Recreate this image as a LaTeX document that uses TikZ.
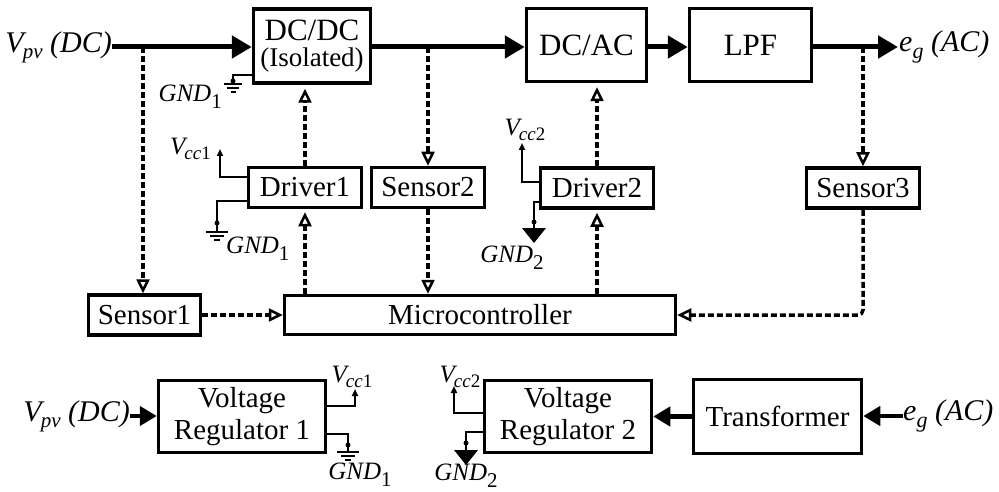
\documentclass[tikz,border=0pt]{standalone}
\usepackage{fontspec}
\setmainfont{Liberation Serif}
\usetikzlibrary{arrows.meta,calc}
\newcommand{\lblVpv}{{\itshape\fontsize{30}{30}\selectfont V\kern-1pt\raisebox{-6pt}{\fontsize{21}{21}\selectfont pv} (DC)}}
\newcommand{\lblEg}{{\itshape\fontsize{30}{30}\selectfont e\raisebox{-7pt}{\fontsize{22}{22}\selectfont g} (AC)}}
\newcommand{\lblVcc}[1]{{\itshape\fontsize{25}{25}\selectfont V\kern-1pt\raisebox{-5pt}{\fontsize{19}{19}\selectfont cc\upshape #1}}}
\newcommand{\lblGnd}[1]{{\itshape\fontsize{25}{25}\selectfont GND\raisebox{-7pt}{\upshape\fontsize{21}{21}\selectfont #1}}}
\tikzset{
  blk/.style={draw, line width=3.5pt, inner sep=0pt, align=center, font=\fontsize{29}{32}\selectfont},
  bigblk/.style={blk, font=\fontsize{31}{30}\selectfont},
  mainarr/.style={line width=5pt, -{Triangle[length=20pt,width=22pt]}},
  smallarr/.style={line width=4.5pt, -{Triangle[length=17pt,width=19pt]}},
  dasharr/.style={line width=3.5pt, dash pattern=on 6pt off 3pt, -{Triangle[open,length=14pt,width=13pt,line width=2.5pt]}},
  wire/.style={line width=2pt},
  vccarr/.style={wire, -{Triangle[length=7pt,width=6pt]}},
  dotc/.style={circle, fill, inner sep=0pt, minimum size=5pt},
  earth/.pic={\draw[line width=2pt] (-11,0)--(11,0) (-7,4)--(7,4) (-3,8)--(3,8);},
  smallearth/.pic={\draw[line width=2pt] (-9,0)--(9,0) (-6,4)--(6,4) (-2.5,8)--(2.5,8);},
  trignd/.pic={\fill (-12,0)--(12,0)--(0,15)--cycle;},
  lbl/.style={inner sep=0pt}
}
\begin{document}
\begin{tikzpicture}[x=1pt,y=-1pt]
\useasboundingbox (0,0) rectangle (999,492);
% top row blocks
\node[bigblk, minimum width=117pt, minimum height=74pt] (dcdc) at (312,46)
  {DC/DC\\[-4pt]{\fontsize{27}{27}\selectfont (Isolated)}};
\node[bigblk, minimum width=120pt, minimum height=73pt] (dcac) at (586.5,45) {DC/AC};
\node[bigblk, minimum width=122pt, minimum height=73pt] (lpf) at (750.5,45) {LPF};
% middle row
\node[blk, minimum width=113pt, minimum height=40pt] (drv1) at (305,187.5) {Driver1};
\node[blk, minimum width=113pt, minimum height=40pt] (sen2) at (428,187.5) {Sensor2};
\node[blk, minimum width=113pt, minimum height=40pt] (drv2) at (597,188) {Driver2};
\node[blk, minimum width=113pt, minimum height=40pt] (sen3) at (863,188) {Sensor3};
\node[blk, minimum width=112pt, minimum height=40pt] (sen1) at (144.5,315) {Sensor1};
\node[blk, minimum width=391pt, minimum height=39pt] (mcu) at (480,315) {Microcontroller};
% bottom row
\node[blk, minimum width=167pt, minimum height=72pt] (vr1) at (242,416.5) {Voltage\\Regulator 1};
\node[blk, minimum width=167pt, minimum height=72pt] (vr2) at (568,416.5) {Voltage\\Regulator 2};
\node[blk, minimum width=168pt, minimum height=74pt] (trf) at (777.5,416.5) {Transformer};
% labels
\node[lbl, anchor=east] (vpv) at (112,47) {\lblVpv};
\node[lbl, anchor=west] (eg) at (899,47) {\lblEg};
\node[lbl, anchor=east] (vpv2) at (130,416) {\lblVpv};
\node[lbl, anchor=west] (eg2) at (903,416) {\lblEg};
% main power path
\coordinate (t1) at (143,47);
\coordinate (t2) at (428,47);
\coordinate (t3) at (863,47);
\coordinate (egend) at (898,47);
\draw[mainarr] (vpv.east) -- (dcdc.west |- vpv.east);
\draw[mainarr] (dcdc.east |- t2) -- (dcac.west |- t2);
\draw[mainarr] (dcac.east |- t2) -- (lpf.west |- t2);
\draw[line width=5pt] (lpf.east |- t3) -- (t3);
\draw[mainarr] (t3) -- (egend);
% sensing (dashed)
\draw[dasharr] (t1) -- (t1 |- sen1.north);
\draw[dasharr] (t2) -- (sen2.north);
\draw[dasharr] (t3) -- (sen3.north);
\draw[dasharr] (sen2.south) -- (sen2.south |- mcu.north);
\draw[dasharr] (sen1.east) -- (sen1.east -| mcu.west);
\draw[dasharr, rounded corners=5pt] (sen3.south) |- (mcu.east);
% control (dashed)
\draw[dasharr, shorten >=4pt] (drv1.north) -- (drv1.north |- dcdc.south);
\draw[dasharr, shorten >=4pt] (drv2.north) -- (drv2.north |- dcac.south);
\draw[dasharr, shorten >=3pt] (drv1.south |- mcu.north) -- (drv1.south);
\draw[dasharr, shorten >=3pt] (drv2.south |- mcu.north) -- (drv2.south);
% DC/DC ground
\coordinate (g0a) at (252,75);
\coordinate (g0b) at (233,75);
\node[dotc] (g0d) at (233,81) {};
\draw[wire] (g0a) -- (g0b) -- (g0d.center) -- ++(0,3);
\pic at (233,84) {smallearth};
\node[lbl, anchor=east] (gnd0) at (222,97) {\lblGnd{1}};
% Driver1 supplies
\coordinate (v1a) at (247,177);
\coordinate (v1b) at (220,177);
\coordinate (v1t) at (220,149);
\draw[vccarr] (v1a) -- (v1b) -- (v1t);
\node[lbl, anchor=east] (vcc1) at (211,149) {\lblVcc{1}};
\coordinate (g1a) at (247,201);
\coordinate (g1b) at (217,201);
\node[dotc] (g1d) at (217,223) {};
\draw[wire] (g1a) -- (g1b) -- (g1d.center) -- ++(0,9);
\pic at (217,232) {earth};
\node[lbl, anchor=north west] (gnd1) at (226,237) {\lblGnd{1}};
% Driver2 supplies
\coordinate (v2a) at (540,182);
\coordinate (v2b) at (522,182);
\coordinate (v2t) at (522,143);
\draw[vccarr] (v2a) -- (v2b) -- (v2t);
\node[lbl, anchor=south] (vcc2) at (525,141) {\lblVcc{2}};
\coordinate (g2a) at (540,202);
\coordinate (g2b) at (534,202);
\node[dotc] (g2d) at (534,222) {};
\draw[wire] (g2a) -- (g2b) -- (g2d.center) -- ++(0,6);
\pic at (534,228) {trignd};
\node[lbl, anchor=north] (gnd2) at (512,246) {\lblGnd{2}};
% bottom arrows
\draw[smallarr] (vpv2.east) -- (vr1.west |- vpv2.east);
\draw[smallarr] (trf.west) -- (vr2.east);
\draw[smallarr] (eg2.west) -- (trf.east |- eg2.west);
% VR1 supplies
\coordinate (v3a) at (327,406);
\coordinate (v3b) at (355,406);
\coordinate (v3t) at (355,389);
\draw[vccarr] (v3a) -- (v3b) -- (v3t);
\node[lbl, anchor=south] (vcc3) at (352,388) {\lblVcc{1}};
\coordinate (g3a) at (327,434);
\coordinate (g3b) at (348,434);
\node[dotc] (g3d) at (348,445) {};
\draw[wire] (g3a) -- (g3b) -- (g3d.center) -- ++(0,7);
\pic at (348,452) {earth};
\node[lbl, anchor=north] (gnd3) at (360,463) {\lblGnd{1}};
% VR2 supplies
\coordinate (v4a) at (483,413);
\coordinate (v4b) at (454,413);
\coordinate (v4t) at (454,386);
\draw[vccarr] (v4a) -- (v4b) -- (v4t);
\node[lbl, anchor=south] (vcc4) at (460,388) {\lblVcc{2}};
\coordinate (g4a) at (483,432);
\coordinate (g4b) at (466,432);
\node[dotc] (g4d) at (466,443) {};
\draw[wire] (g4a) -- (g4b) -- (g4d.center) -- ++(0,7);
\pic at (466,450) {trignd};
\node[lbl, anchor=north] (gnd4) at (466,464) {\lblGnd{2}};
\end{tikzpicture}
\end{document}
